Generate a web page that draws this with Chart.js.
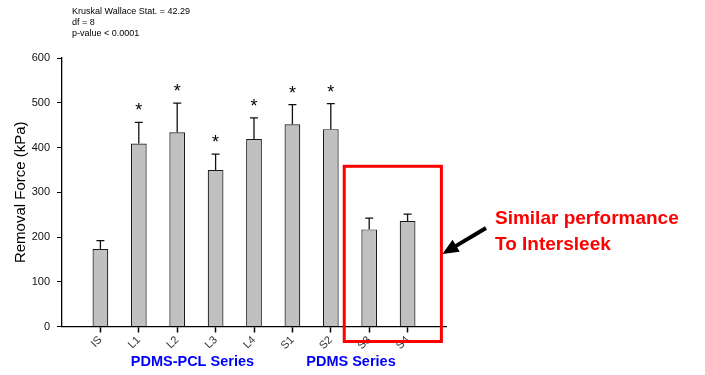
<!DOCTYPE html>
<html>
<head>
<meta charset="utf-8">
<script src="https://cdn.jsdelivr.net/npm/chart.js@4/dist/chart.umd.min.js"></script>
<style>
  html, body { margin: 0; padding: 0; background: #fff; }
  #wrap { width: 705px; height: 375px; }
</style>
</head>
<body>
<div id="wrap"><canvas id="chart" width="705" height="375"></canvas></div>
<script>
// Removal force per coating, with upper error bars
const categories = ['IS', 'L1', 'L2', 'L3', 'L4', 'S1', 'S2', 'S3', 'S4']
const means = [173, 409, 434, 350, 419, 452, 441, 217, 236]
const upperErr = [19, 47, 65, 35, 47, 44, 57, 25, 15]
const significant = [false, true, true, true, true, true, true, false, false]
const yTicks = [0, 100, 200, 300, 400, 500, 600]
const statLines = ['Kruskal Wallace Stat. = 42.29', 'df = 8', 'p-value < 0.0001']

const FONT = 'Arial, "Liberation Sans", sans-serif'

// pad the category axis with an empty slot each side so the axis overhangs
const labels = [''].concat(categories, [''])
const values = [null].concat(means, [null])

const overlay = {
  id: 'overlay',
  afterDatasetsDraw(chart) {
    const ctx = chart.ctx
    const x = chart.scales.x
    const y = chart.scales.y
    ctx.save()

    // error bars + asterisks
    means.forEach((m, i) => {
      const px = x.getPixelForValue(i + 1)
      const top = y.getPixelForValue(m + upperErr[i])
      const base = y.getPixelForValue(m)
      ctx.strokeStyle = '#111'
      ctx.lineWidth = 1.3
      ctx.beginPath()
      ctx.moveTo(px, base)
      ctx.lineTo(px, top)
      ctx.moveTo(px - 4, top)
      ctx.lineTo(px + 4, top)
      ctx.stroke()
      if (significant[i]) {
        ctx.fillStyle = '#000'
        ctx.font = '18px ' + FONT
        ctx.textAlign = 'center'
        ctx.textBaseline = 'alphabetic'
        ctx.fillText('*', px, top - 6)
      }
    })

    // stats text
    ctx.fillStyle = '#000'
    ctx.font = '9px ' + FONT
    ctx.textAlign = 'left'
    ctx.textBaseline = 'middle'
    statLines.forEach((t, i) => ctx.fillText(t, 72, 12 + i * 11))

    // group labels
    const step = x.getPixelForValue(2) - x.getPixelForValue(1)
    ctx.fillStyle = '#0000ff'
    ctx.font = 'bold 14.5px ' + FONT
    ctx.textAlign = 'center'
    ctx.fillText('PDMS-PCL Series', (x.getPixelForValue(3) + x.getPixelForValue(4)) / 2 - 4, 362)
    ctx.fillText('PDMS Series', (x.getPixelForValue(7) + x.getPixelForValue(8)) / 2 + 1, 362)

    // red box around S3/S4
    const boxL = x.getPixelForValue(8) - step * 0.65
    const boxR = x.getPixelForValue(9) + step * 0.88
    const boxT = y.getPixelForValue(358)
    const boxB = y.bottom + 15
    ctx.strokeStyle = '#ff0000'
    ctx.lineWidth = 3
    ctx.strokeRect(boxL, boxT, boxR - boxL, boxB - boxT)

    // annotation
    ctx.fillStyle = '#ff0000'
    ctx.font = 'bold 19px ' + FONT
    ctx.textAlign = 'left'
    ctx.textBaseline = 'alphabetic'
    ctx.fillText('Similar performance', 495, 224)
    ctx.fillText('To Intersleek', 495, 250)

    // arrow
    const tx = boxR + 1, ty = 254, fx = 486, fy = 228
    const ang = Math.atan2(ty - fy, tx - fx)
    ctx.strokeStyle = '#000'
    ctx.fillStyle = '#000'
    ctx.lineWidth = 4
    ctx.beginPath()
    ctx.moveTo(fx, fy)
    ctx.lineTo(tx - 10 * Math.cos(ang), ty - 10 * Math.sin(ang))
    ctx.stroke()
    ctx.beginPath()
    ctx.moveTo(tx, ty)
    ctx.lineTo(tx - 16 * Math.cos(ang) + 7 * Math.sin(ang), ty - 16 * Math.sin(ang) - 7 * Math.cos(ang))
    ctx.lineTo(tx - 16 * Math.cos(ang) - 7 * Math.sin(ang), ty - 16 * Math.sin(ang) + 7 * Math.cos(ang))
    ctx.closePath()
    ctx.fill()

    ctx.restore()
  }
}

new Chart(document.getElementById('chart'), {
  type: 'bar',
  data: {
    labels: labels,
    datasets: [{
      data: values,
      backgroundColor: '#c0c0c0',
      borderColor: '#1a1a1a',
      borderWidth: 1.2,
      barPercentage: 0.41,
      categoryPercentage: 1
    }]
  },
  options: {
    responsive: false,
    animation: false,
    layout: { padding: { top: 58, right: 259, left: 0, bottom: 0 } },
    plugins: { legend: { display: false }, tooltip: { enabled: false } },
    scales: {
      x: {
        offset: false,
        afterFit(scale) { scale.height = 48.5 },
        border: { color: '#000', width: 1.3 },
        grid: {
          offset: false,
          drawOnChartArea: false,
          tickLength: 6,
          tickWidth: 1.5,
          tickColor: (c) => (c.index === 0 || c.index === labels.length - 1) ? 'rgba(0,0,0,0)' : '#000'
        },
        ticks: {
          autoSkip: false,
          minRotation: 45,
          maxRotation: 45,
          color: '#333',
          padding: 1,
          font: { family: FONT, size: 11 }
        }
      },
      y: {
        min: 0,
        max: 600,
        afterFit(scale) { scale.width = 62 },
        afterBuildTicks(scale) { scale.ticks = yTicks.map((v) => ({ value: v })) },
        border: { color: '#000', width: 1.3 },
        grid: { drawOnChartArea: false, tickLength: 5, color: '#000' },
        ticks: { color: '#111', padding: 7, font: { family: FONT, size: 11 } },
        title: {
          display: true,
          text: 'Removal Force (kPa)',
          color: '#000',
          padding: { top: 12, bottom: 0 },
          font: { family: FONT, size: 15 }
        }
      }
    }
  },
  plugins: [overlay]
})
</script>
</body>
</html>
